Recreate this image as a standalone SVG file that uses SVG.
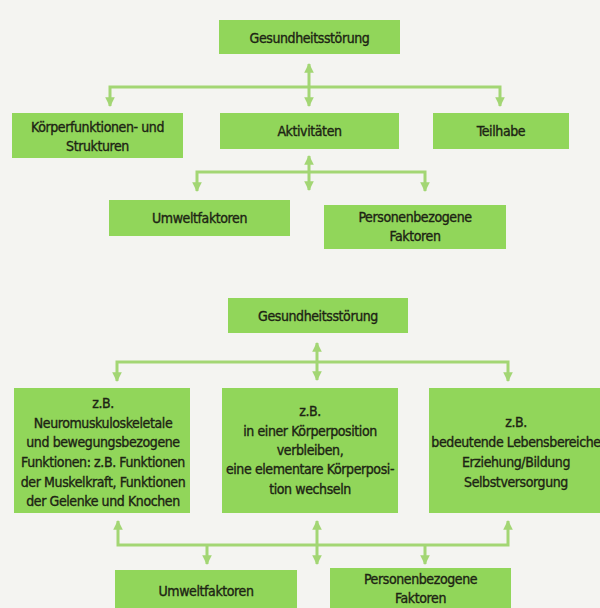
<svg xmlns="http://www.w3.org/2000/svg" width="600" height="608" viewBox="0 0 600 608">
<defs>
<style>
.bg{fill:#f4f4f1}
.box{fill:#91d65a}
.t{font-family:"DejaVu Sans Condensed","DejaVu Sans",sans-serif;font-stretch:condensed;font-size:14px;letter-spacing:-0.4px;fill:#1d2414;stroke:#1d2414;stroke-width:0.35;text-anchor:middle}
.c{stroke:#a3d674;stroke-width:3;fill:none}
</style>
<marker id="ah" viewBox="0 0 10 10" refX="9" refY="5" markerWidth="3.2" markerHeight="3.2" orient="auto-start-reverse" markerUnits="strokeWidth">
<path d="M0,0 L10,5 L0,10 z" fill="#a3d674"/>
</marker>
</defs>
<rect class="bg" x="0" y="0" width="600" height="608"/>

<g id="connectors">
<path class="c" d="M309,64 V106" marker-start="url(#ah)" marker-end="url(#ah)"/>
<path class="c" d="M110,106 V87 H500 V106" marker-start="url(#ah)" marker-end="url(#ah)"/>
<path class="c" d="M309,156 V190" marker-start="url(#ah)" marker-end="url(#ah)"/>
<path class="c" d="M197,191 V172 H425 V191" marker-start="url(#ah)" marker-end="url(#ah)"/>

<path class="c" d="M317,343 V380" marker-start="url(#ah)" marker-end="url(#ah)"/>
<path class="c" d="M117,381 V362 H508 V381" marker-start="url(#ah)" marker-end="url(#ah)"/>

<path class="c" d="M118,521 V545 H508 V521" marker-start="url(#ah)" marker-end="url(#ah)"/>
<path class="c" d="M317,521 V564" marker-start="url(#ah)" marker-end="url(#ah)"/>
<path class="c" d="M207,545 V564" marker-end="url(#ah)"/>
<path class="c" d="M425,545 V564" marker-end="url(#ah)"/>
</g>

<g id="gesundheit1"><rect class="box" x="219" y="20" width="181" height="34"/><text class="t" x="309.5" y="43">Gesundheitsstörung</text></g>
<g id="koerper1"><rect class="box" x="12" y="113" width="171" height="45"/><text class="t" x="97.5" y="132">Körperfunktionen- und</text><text class="t" x="97.5" y="151">Strukturen</text></g>
<g id="aktivitaeten1"><rect class="box" x="220" y="113" width="179" height="36"/><text class="t" x="309.5" y="136">Aktivitäten</text></g>
<g id="teilhabe1"><rect class="box" x="433" y="113" width="136" height="36"/><text class="t" x="501" y="136">Teilhabe</text></g>
<g id="umwelt1"><rect class="box" x="109" y="200" width="181" height="36"/><text class="t" x="199.5" y="223">Umweltfaktoren</text></g>
<g id="person1"><rect class="box" x="324" y="205" width="182" height="44"/><text class="t" x="415" y="222">Personenbezogene</text><text class="t" x="415" y="241">Faktoren</text></g>

<g id="gesundheit2"><rect class="box" x="228" y="298" width="180" height="35"/><text class="t" x="318" y="321">Gesundheitsstörung</text></g>
<g id="koerper2"><rect class="box" x="14" y="388" width="176" height="125"/>
<text class="t" x="103" y="408">z.B.</text>
<text class="t" x="103" y="428">Neuromuskuloskeletale</text>
<text class="t" x="103" y="447">und bewegungsbezogene</text>
<text class="t" x="103" y="467">Funktionen: z.B. Funktionen</text>
<text class="t" x="103" y="487">der Muskelkraft, Funktionen</text>
<text class="t" x="103" y="506">der Gelenke und Knochen</text></g>
<g id="aktivitaeten2"><rect class="box" x="222" y="388" width="176" height="125"/>
<text class="t" x="310" y="416">z.B.</text>
<text class="t" x="310" y="436">in einer Körperposition</text>
<text class="t" x="310" y="455">verbleiben,</text>
<text class="t" x="310" y="474">eine elementare Körperposi-</text>
<text class="t" x="310" y="494">tion wechseln</text></g>
<g id="teilhabe2"><rect class="box" x="429" y="388" width="180" height="125"/>
<text class="t" x="516" y="427">z.B.</text>
<text class="t" x="516" y="447">bedeutende Lebensbereiche</text>
<text class="t" x="516" y="467">Erziehung/Bildung</text>
<text class="t" x="516" y="487">Selbstversorgung</text></g>
<g id="umwelt2"><rect class="box" x="115" y="570" width="182" height="40"/><text class="t" x="206" y="596">Umweltfaktoren</text></g>
<g id="person2"><rect class="box" x="330" y="568" width="181" height="42"/><text class="t" x="420.5" y="584">Personenbezogene</text><text class="t" x="420.5" y="603">Faktoren</text></g>
</svg>
